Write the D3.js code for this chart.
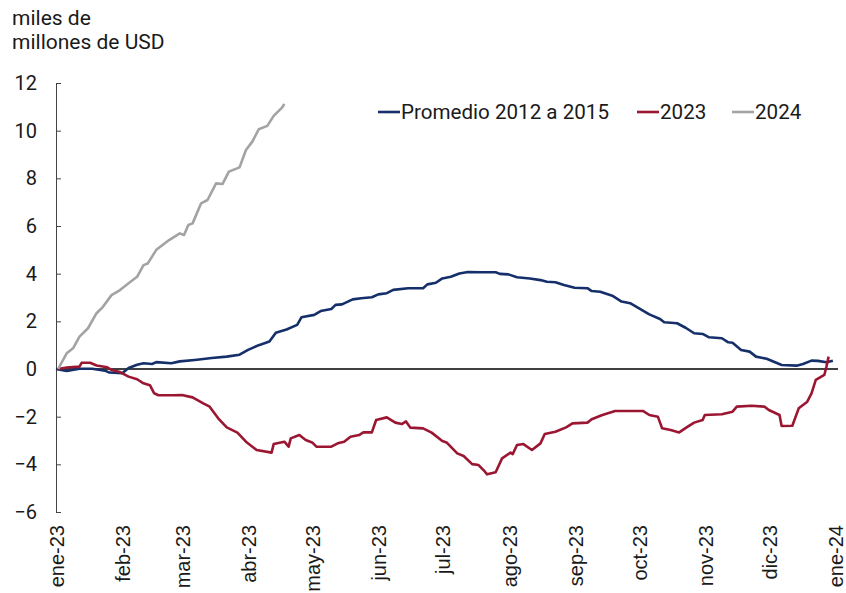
<!DOCTYPE html>
<html>
<head>
<meta charset="utf-8">
<script src="https://cdn.jsdelivr.net/npm/d3@7"></script>
<style>
    body { margin: 0; background: #fff; }
    text { font-family: Roboto, sans-serif; fill: #1a1a1a; }
    .axis.bottom text { font-family: "Liberation Sans", Arial, sans-serif; }
</style>
</head>
<body>
<div id="chart-area"></div>
<script>
/*
*    Acumulado en el año, miles de millones de USD
*    Promedio 2012 a 2015 vs 2023 vs 2024
*/

// fechas como "mm-dd", todas se dibujan sobre el eje del año 2023
const fechasPromedio = ['01-01','01-06','01-12','01-18','01-24','01-26','02-01','02-04','02-08','02-11','02-15','02-17','02-24','02-28',
    '03-07','03-15','03-22','03-28','04-01','04-06','04-11','04-14','04-19','04-24','04-26','05-02','05-05','05-10','05-12','05-15',
    '05-20','05-24','05-29','06-01','06-05','06-08','06-15','06-22','06-24','06-28','07-01','07-05','07-09','07-13','07-19','07-26',
    '07-28','08-01','08-05','08-11','08-16','08-19','08-23','08-27','09-01','09-07','09-09','09-13','09-19','09-23','09-27','10-02',
    '10-06','10-11','10-13','10-19','10-23','10-27','10-31','11-03','11-09','11-12','11-14','11-18','11-22','11-25','11-30','12-07',
    '12-14','12-17','12-21','12-24','12-28','12-31'];
const valoresPromedio = [0, -0.08, 0.01, 0.01, -0.07, -0.15, -0.18, 0.04, 0.18, 0.24, 0.21, 0.29, 0.24, 0.32,
    0.38, 0.46, 0.52, 0.6, 0.8, 1.0, 1.15, 1.52, 1.66, 1.85, 2.17, 2.27, 2.43, 2.52, 2.69, 2.71,
    2.92, 2.97, 3.01, 3.13, 3.18, 3.32, 3.39, 3.39, 3.55, 3.62, 3.8, 3.87, 4.01, 4.07, 4.06, 4.06,
    3.99, 3.97, 3.85, 3.8, 3.73, 3.66, 3.64, 3.52, 3.41, 3.39, 3.27, 3.24, 3.06, 2.83, 2.76, 2.5,
    2.29, 2.1, 1.96, 1.92, 1.73, 1.5, 1.47, 1.33, 1.29, 1.12, 1.1, 0.8, 0.73, 0.52, 0.43, 0.17,
    0.14, 0.21, 0.35, 0.34, 0.28, 0.35];

const fechas2023 = ['01-02','01-06','01-12','01-13','01-17','01-20','01-25','01-27','01-31','02-04','02-08','02-11','02-14','02-16',
    '02-18','02-25','03-01','03-06','03-11','03-14','03-18','03-22','03-27','03-31','04-05','04-12','04-13','04-18','04-20','04-21',
    '04-25','04-28','05-01','05-03','05-10','05-13','05-16','05-19','05-23','05-25','05-29','05-31','06-05','06-09','06-12','06-14',
    '06-16','06-22','06-26','07-01','07-03','07-08','07-11','07-15','07-18','07-21','07-22','07-26','07-29','08-02','08-03','08-05',
    '08-08','08-12','08-16','08-18','08-23','08-28','08-31','09-07','09-09','09-14','09-20','10-03','10-06','10-10','10-12','10-16',
    '10-20','10-24','10-27','10-31','11-01','11-09','11-14','11-16','11-23','11-29','12-01','12-06','12-07','12-12','12-15','12-19',
    '12-21','12-23','12-27','12-28','12-29'];
const valores2023 = [0, 0.06, 0.1, 0.26, 0.26, 0.15, 0.07, -0.04, -0.13, -0.32, -0.43, -0.6, -0.68, -1.02,
    -1.1, -1.1, -1.09, -1.19, -1.44, -1.58, -2.07, -2.45, -2.67, -3.05, -3.4, -3.51, -3.15, -3.05, -3.26, -2.91,
    -2.77, -2.98, -3.08, -3.26, -3.26, -3.12, -3.05, -2.84, -2.77, -2.66, -2.66, -2.14, -2.03, -2.25, -2.31, -2.2,
    -2.46, -2.49, -2.67, -3.02, -3.08, -3.54, -3.65, -3.99, -4.03, -4.31, -4.42, -4.33, -3.75, -3.51, -3.57, -3.19,
    -3.15, -3.4, -3.12, -2.73, -2.63, -2.45, -2.28, -2.25, -2.11, -1.93, -1.76, -1.76, -1.93, -2.0, -2.49, -2.56,
    -2.66, -2.42, -2.25, -2.14, -1.93, -1.9, -1.79, -1.58, -1.54, -1.58, -1.72, -1.93, -2.39, -2.38, -1.65, -1.37,
    -1.02, -0.46, -0.25, 0.1, 0.52];

const fechas2024 = ['01-02','01-06','01-09','01-12','01-16','01-20','01-23','01-27','01-31','02-04','02-08','02-11','02-13','02-17',
    '02-23','02-28','03-02','03-04','03-06','03-10','03-13','03-17','03-20','03-23','03-28','03-31','04-03','04-06','04-10','04-13',
    '04-17','04-18'];
const valores2024 = [0, 0.66, 0.87, 1.36, 1.71, 2.34, 2.61, 3.1, 3.31, 3.6, 3.87, 4.36, 4.43, 5.0,
    5.41, 5.69, 5.62, 6.04, 6.11, 6.95, 7.09, 7.79, 7.76, 8.28, 8.46, 9.19, 9.54, 10.06, 10.2, 10.62,
    10.98, 11.12];

const etiquetasMes = ['ene-23','feb-23','mar-23','abr-23','may-23','jun-23','jul-23','ago-23','sep-23','oct-23','nov-23','dic-23','ene-24'];
const ticksY = [-6, -4, -2, 0, 2, 4, 6, 8, 10, 12];

const series = [
    { nombre: 'Promedio 2012 a 2015', fechas: fechasPromedio, valores: valoresPromedio, color: '#142f69' },
    { nombre: '2023', fechas: fechas2023, valores: valores2023, color: '#9b1631' },
    { nombre: '2024', fechas: fechas2024, valores: valores2024, color: '#a3a3a3' }
];

window.addEventListener('DOMContentLoaded', (event) => {

    const parseFecha = d3.timeParse('%Y-%m-%d');

    const margin = {
        top: 83,
        right: 11,
        bottom: 81,
        left: 56
    };

    const width = 846 - margin.left - margin.right;
    const height = 593 - margin.top - margin.bottom;

    const svg = d3.select('#chart-area')
        .append('svg')
        .attr('width', 846)
        .attr('height', 593);

    // titulo del eje
    svg.append('text')
        .attr('x', 12)
        .attr('y', 25)
        .style('font-size', '21px')
        .text('miles de');
    svg.append('text')
        .attr('x', 12)
        .attr('y', 49)
        .style('font-size', '21px')
        .text('millones de USD');

    const chart = svg.append('g')
        .attr('transform', `translate(${margin.left},${margin.top})`);

    const x = d3.scaleTime()
        .domain([parseFecha('2023-01-01'), parseFecha('2024-01-01')])
        .range([0, width]);

    const y = d3.scaleLinear()
        .domain([-6, 12])
        .range([height, 0]);

    const leftAxisCall = d3.axisLeft(y)
        .tickValues(ticksY)
        .tickSizeInner(-5)
        .tickSizeOuter(0)
        .tickPadding(19);

    const yAxis = chart.append('g')
        .attr('class', 'axis left')
        .call(leftAxisCall);
    yAxis.select('.domain').attr('stroke', '#444');
    yAxis.selectAll('.tick line').attr('stroke', '#444');
    yAxis.selectAll('text')
        .style('font-size', '20px')
        .attr('fill', '#1a1a1a');

    const meses = d3.timeMonth.range(parseFecha('2023-01-01'), parseFecha('2024-01-02'));

    const bottomAxisCall = d3.axisBottom(x)
        .tickValues(meses)
        .tickSize(0)
        .tickFormat((d, i) => etiquetasMes[i]);

    const xAxis = chart.append('g')
        .attr('class', 'axis bottom')
        .attr('transform', `translate(0, ${height})`)
        .call(bottomAxisCall);
    xAxis.select('.domain').remove();
    xAxis.selectAll('text')
        .attr('transform', 'rotate(-90)')
        .attr('text-anchor', 'end')
        .attr('x', -13)
        .attr('y', 0)
        .attr('dy', '0.38em')
        .attr('fill', '#1a1a1a')
        .style('font-size', '20px');

    // linea del cero
    chart.append('line')
        .attr('x1', 0)
        .attr('x2', width + 3)
        .attr('y1', y(0))
        .attr('y2', y(0))
        .attr('stroke', '#000')
        .attr('stroke-width', 1.5);

    const line = d3.line()
        .x((d) => x(d.fecha))
        .y((d) => y(d.valor));

    series.forEach((s) => {
        const datos = s.fechas.map((f, i) => {
            return { fecha: parseFecha('2023-' + f), valor: s.valores[i] };
        });
        chart.append('path')
            .datum(datos)
            .attr('fill', 'none')
            .attr('stroke', s.color)
            .attr('stroke-width', 2.6)
            .attr('stroke-linejoin', 'round')
            .attr('d', line);
    });

    // leyenda
    const legendPos = [378, 637, 732];
    const legend = svg.append('g')
        .attr('class', 'legend');
    series.forEach((s, i) => {
        const g = legend.append('g')
            .attr('transform', `translate(${legendPos[i]}, 112)`);
        g.append('line')
            .attr('x1', 0)
            .attr('x2', 22)
            .attr('y1', 0)
            .attr('y2', 0)
            .attr('stroke', s.color)
            .attr('stroke-width', 2.6);
        g.append('text')
            .attr('x', 23)
            .attr('dy', '0.36em')
            .style('font-size', '20.6px')
            .text(s.nombre);
    });

}); // End of document ready.
</script>
</body>
</html>
